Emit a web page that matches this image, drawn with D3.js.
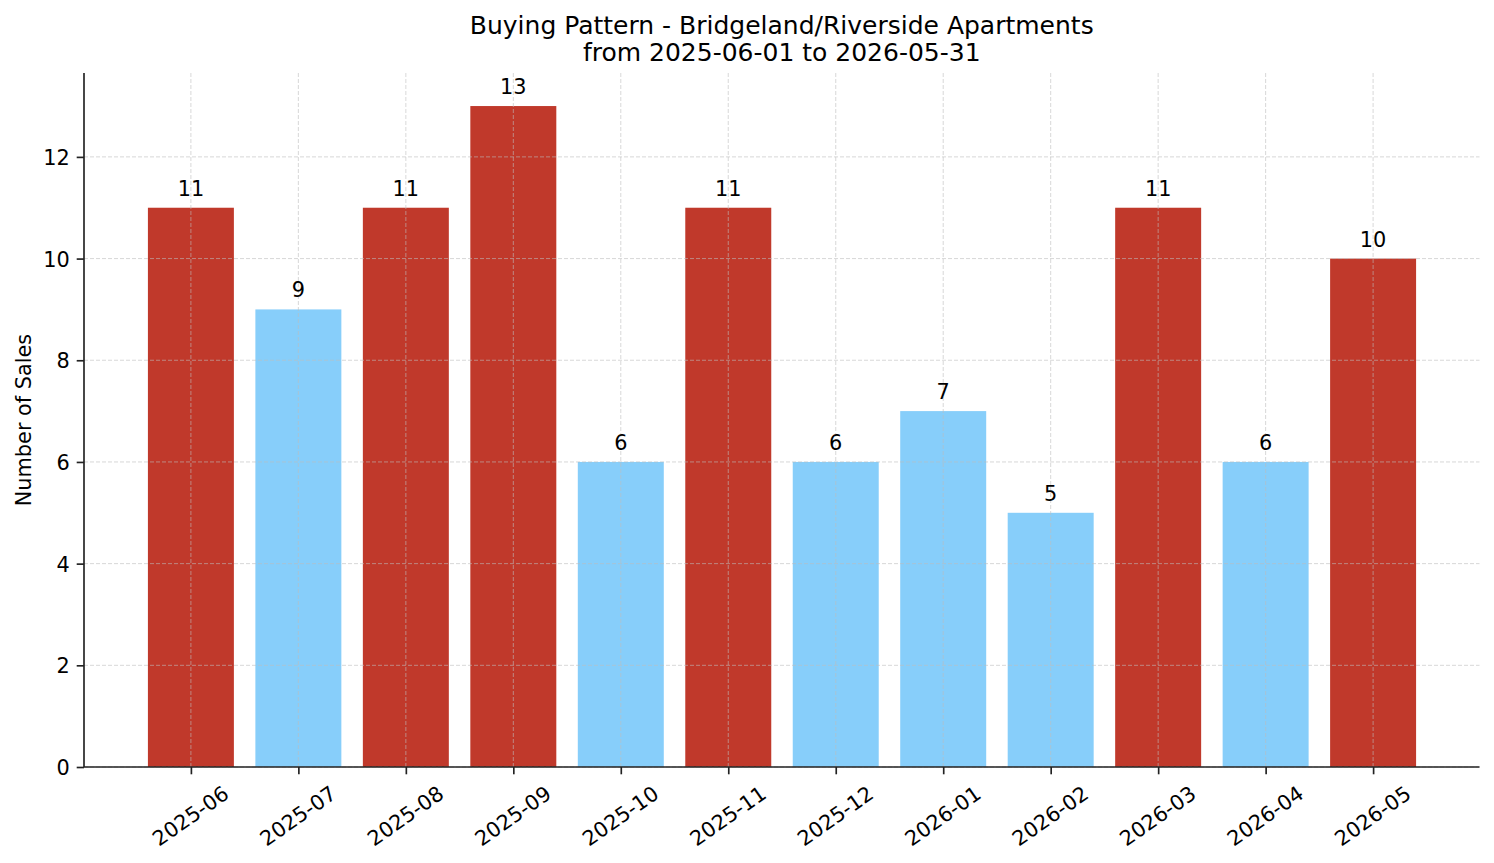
<!DOCTYPE html>
<html>
<head>
<meta charset="utf-8">
<script src="https://cdn.jsdelivr.net/npm/d3@7"></script>
<style>
  html, body { margin: 0; padding: 0; background: #fff; }
  svg { display: block; font-family: "DejaVu Sans", sans-serif; }
</style>
</head>
<body>
<svg id="chart" width="1494" height="863"></svg>
<script>
const months = ["2025-06","2025-07","2025-08","2025-09","2025-10","2025-11","2025-12","2026-01","2026-02","2026-03","2026-04","2026-05"];
const sales = [11, 9, 11, 13, 6, 11, 6, 7, 5, 11, 6, 10];
const yTicks = [0, 2, 4, 6, 8, 10, 12];
const titleLines = ["Buying Pattern - Bridgeland/Riverside Apartments", "from 2025-06-01 to 2026-05-31"];
const yLabel = "Number of Sales";
const highColor = "#c0392b";
const lowColor = "#87cefa";
const highThreshold = 10;

(function () {
const svg = d3.select("#chart");
const mL = 84, mR = 1479.5, mT = 73, mB = 767;
const fs = 20.83;

const n = months.length;
const dataMin = -0.4, dataMax = n - 1 + 0.4;
const marg = 0.05 * (dataMax - dataMin);
const xs = d3.scaleLinear().domain([dataMin - marg, dataMax + marg]).range([mL + 0.5, mR]);
const y = d3.scaleLinear().domain([0, d3.max(sales) * 1.05]).range([mB, mT]);

// bars
svg.append("g").selectAll("rect").data(sales).join("rect")
  .attr("x", (d, i) => xs(i - 0.4))
  .attr("width", (d, i) => xs(i + 0.4) - xs(i - 0.4))
  .attr("y", d => y(d))
  .attr("height", d => y(0) - y(d))
  .attr("fill", d => d >= highThreshold ? highColor : lowColor);

// grid (drawn over bars)
const grid = svg.append("g").attr("stroke", "#bdbdbd").attr("stroke-opacity", 0.75)
  .attr("stroke-width", 0.8).attr("stroke-dasharray", "4,2");
grid.selectAll("line.h").data(yTicks).join("line").attr("class", "h")
  .attr("x1", mL).attr("x2", mR).attr("y1", d => y(d)).attr("y2", d => y(d));
grid.selectAll("line.v").data(months).join("line").attr("class", "v")
  .attr("x1", (d, i) => xs(i)).attr("x2", (d, i) => xs(i)).attr("y1", mT).attr("y2", mB);

// axes
const yAxis = d3.axisLeft(y).tickValues(yTicks).tickSize(7.3).tickPadding(7).tickSizeOuter(0);
const gy = svg.append("g").attr("transform", `translate(${mL},0)`).call(yAxis);
gy.select(".domain").attr("stroke", "#222").attr("stroke-width", 1.67).attr("d", `M0,${mT}V${mB}`);
gy.selectAll(".tick line").attr("stroke", "#222").attr("stroke-width", 1.67);
gy.selectAll(".tick text").attr("font-size", fs).attr("fill", "#000")
  .attr("font-family", "DejaVu Sans").attr("dy", "0.36em");

const xAxis = d3.axisBottom(xs).tickValues(d3.range(n)).tickSize(7.3).tickFormat(() => "").tickSizeOuter(0);
const gx = svg.append("g").attr("transform", `translate(0,${mB})`).call(xAxis);
gx.select(".domain").attr("stroke", "#222").attr("stroke-width", 1.67).attr("d", `M${mL},0H${mR}`);
gx.selectAll(".tick line").attr("stroke", "#222").attr("stroke-width", 1.67);

// rotated x labels (centered bbox, like matplotlib rotation=35, ha=center)
const ang = 35 * Math.PI / 180;
svg.append("g").selectAll("text").data(months).join("text")
  .attr("font-size", fs).attr("text-anchor", "middle").attr("dy", "0.32em")
  .attr("transform", function (d, i) {
    const w = 4.177 * fs, h = 1.164 * fs;
    const bh = w * Math.sin(ang) + h * Math.cos(ang);
    const cy = mB + 7.3 + 7.3 + bh / 2;
    return `translate(${xs(i)},${cy}) rotate(-35)`;
  })
  .text(d => d);

// value labels
svg.append("g").selectAll("text").data(sales).join("text")
  .attr("x", (d, i) => xs(i)).attr("y", d => y(d) - 12)
  .attr("text-anchor", "middle").attr("font-size", fs).attr("fill", "#000")
  .text(d => d);

// y label
svg.append("text").attr("transform", `translate(31,${(mT + mB) / 2}) rotate(-90)`)
  .attr("text-anchor", "middle").attr("font-size", fs).text(yLabel);

// title
const cx = (mL + mR) / 2;
svg.append("text").attr("x", cx).attr("y", 34).attr("text-anchor", "middle").attr("font-size", 25).text(titleLines[0]);
svg.append("text").attr("x", cx).attr("y", 61).attr("text-anchor", "middle").attr("font-size", 25).text(titleLines[1]);
})();
</script>
</body>
</html>
